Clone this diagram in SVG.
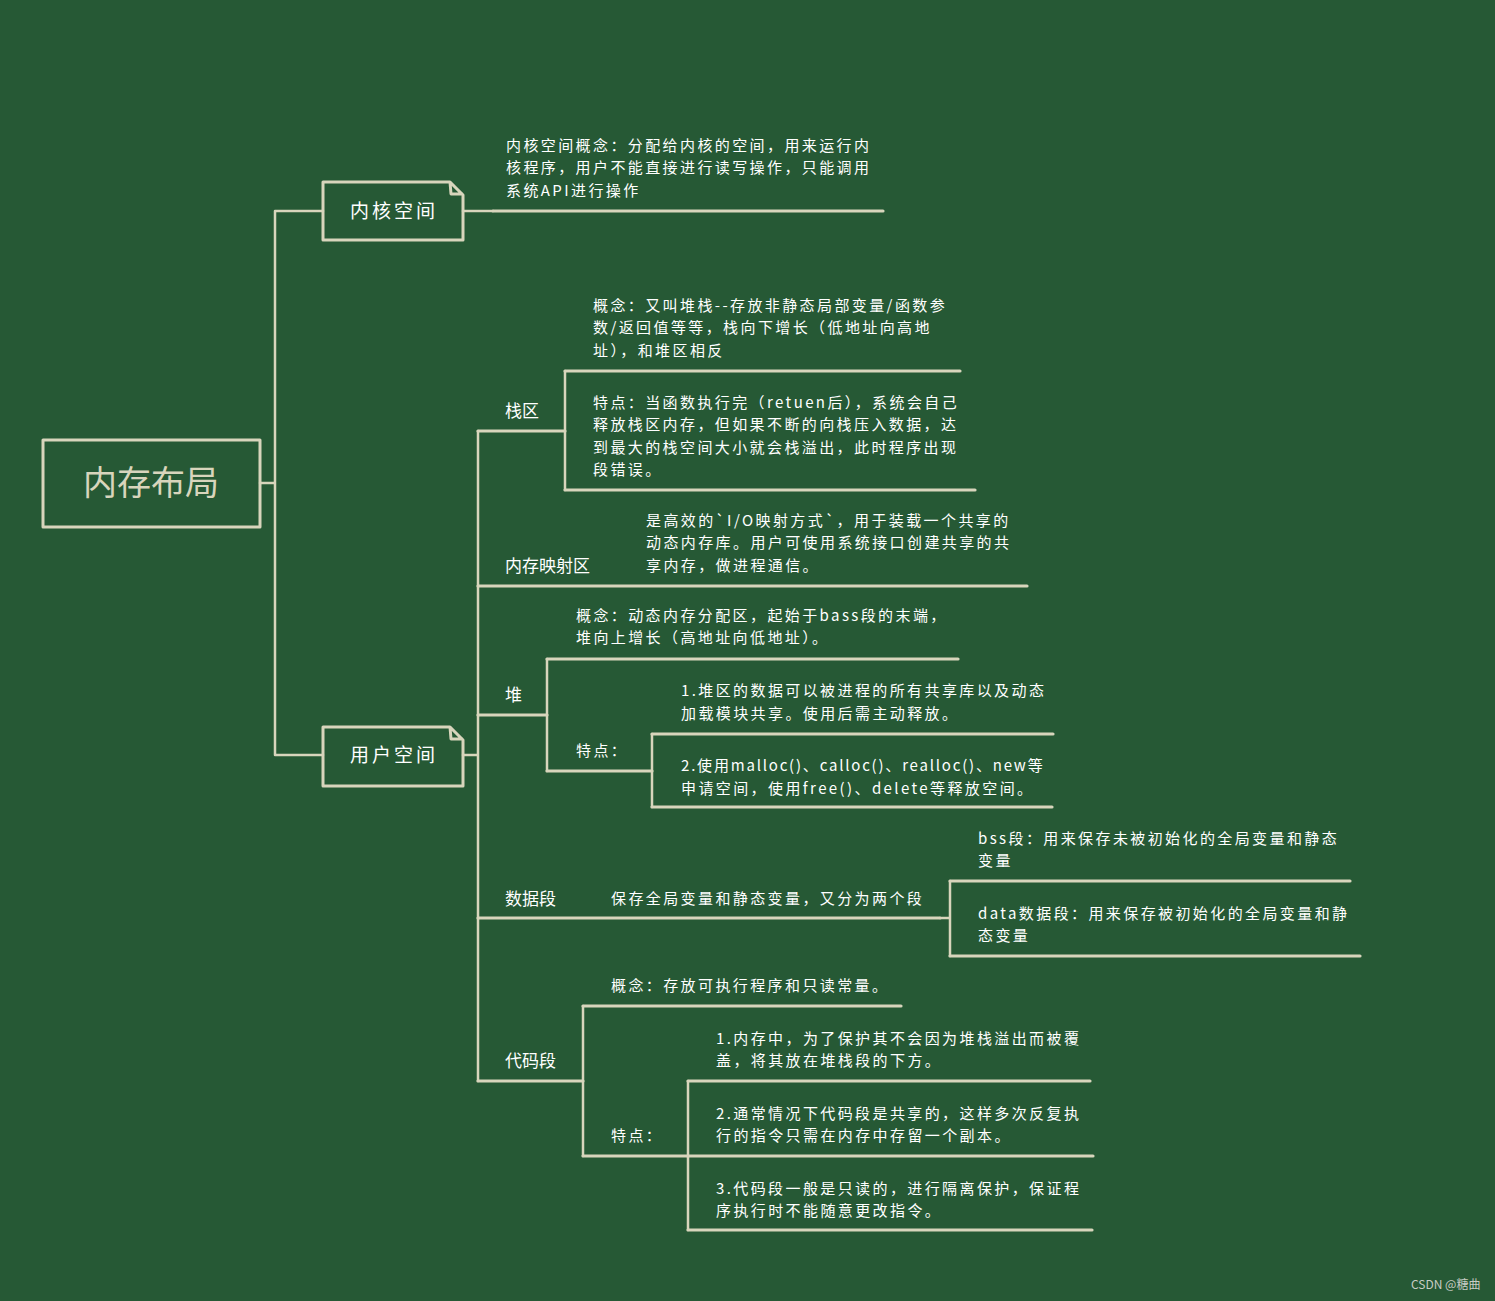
<svg xmlns="http://www.w3.org/2000/svg" width="1495" height="1301" viewBox="0 0 1495 1301">
<style>
.ln{fill:none;stroke:#D8D5BC;stroke-width:2.5;stroke-linecap:round;stroke-linejoin:round}
.ul{fill:none;stroke:#D8D5BC;stroke-width:3.2;stroke-linecap:round}
.box{fill:none;stroke:#D8D5BC;stroke-width:3;stroke-linejoin:round}
.t{font-family:"Noto Sans CJK SC","Noto Sans",sans-serif;font-size:15px;letter-spacing:2.4px;fill:#FFFFFF}
.lb{font-family:"Noto Sans CJK SC","Noto Sans",sans-serif;font-size:17px;fill:#FFFFFF}
.bx{font-family:"Noto Sans CJK SC","Noto Sans",sans-serif;font-size:19px;letter-spacing:3px;fill:#FFFFFF;text-anchor:middle}
.root{font-family:"Noto Sans CJK SC","Noto Sans",sans-serif;font-size:34px;fill:#D8D5BC;text-anchor:middle}
.wm{font-family:"Noto Sans CJK SC","Noto Sans",sans-serif;font-size:12px;fill:#C8CCC4}
</style>
<rect x="0" y="0" width="1495" height="1301" fill="#265935"/>
<g id="connectors">
<path class="ln" d="M260,483 H275 M275,211 V755 M275,211 H323 M275,755 H323"/>
<path class="ln" d="M463,211 H493"/>
<path class="ul" d="M493,211 H883"/>
<path class="ln" d="M463,755 H478 M478,431 V1081"/>
<path class="ul" d="M478,431 H565"/>
<path class="ln" d="M565,371 V490"/>
<path class="ul" d="M565,371 H960 M565,490 H975"/>
<path class="ul" d="M478,586 H1027"/>
<path class="ul" d="M478,715 H547"/>
<path class="ln" d="M547,659 V771"/>
<path class="ul" d="M547,659 H958 M547,771 H652"/>
<path class="ln" d="M652,734 V807"/>
<path class="ul" d="M652,734 H1053 M652,807 H1052"/>
<path class="ul" d="M478,918 H940"/>
<path class="ln" d="M940,918 H950 M950,881 V956"/>
<path class="ul" d="M950,881 H1350 M950,956 H1360"/>
<path class="ul" d="M478,1081 H583"/>
<path class="ln" d="M583,1006 V1156"/>
<path class="ul" d="M583,1006 H901 M583,1156 H688"/>
<path class="ln" d="M688,1081 V1230"/>
<path class="ul" d="M688,1081 H1090 M688,1156 H1093 M688,1230 H1092"/>
</g>
<g id="root">
<rect class="box" x="43" y="440" width="217" height="87"/>
<text class="root" x="151" y="495">内存布局</text>
</g>
<g id="kernel">
<path class="box" d="M323,182 H450 L463,195 V240 H323 Z M450,182 L451,194 H463"/>
<text class="bx" x="394" y="218">内核空间</text>
</g>
<g id="kernel-desc">
<text class="t" x="506" y="151">内核空间概念：分配给内核的空间，用来运行内</text>
<text class="t" x="506" y="173">核程序，用户不能直接进行读写操作，只能调用</text>
<text class="t" x="506" y="196">系统API进行操作</text>
</g>
<g id="user">
<path class="box" d="M323,727 H450 L463,740 V786 H323 Z M450,727 L451,739 H463"/>
<text class="bx" x="394" y="762">用户空间</text>
</g>
<g id="stack">
<text class="lb" x="505" y="417">栈区</text>
</g>
<g id="stack-concept">
<text class="t" x="593" y="311">概念：又叫堆栈--存放非静态局部变量/函数参</text>
<text class="t" x="593" y="333">数/返回值等等，栈向下增长（低地址向高地</text>
<text class="t" x="593" y="356">址），和堆区相反</text>
</g>
<g id="stack-feature">
<text class="t" x="593" y="408">特点：当函数执行完（retuen后），系统会自己</text>
<text class="t" x="593" y="430">释放栈区内存，但如果不断的向栈压入数据，达</text>
<text class="t" x="593" y="453">到最大的栈空间大小就会栈溢出，此时程序出现</text>
<text class="t" x="593" y="475">段错误。</text>
</g>
<g id="mmap">
<text class="lb" x="505" y="572">内存映射区</text>
</g>
<g id="mmap-desc">
<text class="t" x="646" y="526">是高效的`I/O映射方式`，用于装载一个共享的</text>
<text class="t" x="646" y="548">动态内存库。用户可使用系统接口创建共享的共</text>
<text class="t" x="646" y="571">享内存，做进程通信。</text>
</g>
<g id="heap">
<text class="lb" x="505" y="701">堆</text>
</g>
<g id="heap-concept">
<text class="t" x="576" y="621">概念：动态内存分配区，起始于bass段的末端，</text>
<text class="t" x="576" y="643">堆向上增长（高地址向低地址）。</text>
</g>
<g id="heap-feature">
<text class="t" x="576" y="756">特点：</text>
</g>
<g id="heap-f1">
<text class="t" x="681" y="696">1.堆区的数据可以被进程的所有共享库以及动态</text>
<text class="t" x="681" y="719">加载模块共享。使用后需主动释放。</text>
</g>
<g id="heap-f2">
<text class="t" x="681" y="771" style="letter-spacing:1.8px">2.使用malloc()、calloc()、realloc()、new等</text>
<text class="t" x="681" y="794">申请空间，使用free()、delete等释放空间。</text>
</g>
<g id="data">
<text class="lb" x="505" y="905">数据段</text>
</g>
<g id="data-desc">
<text class="t" x="611" y="904">保存全局变量和静态变量，又分为两个段</text>
</g>
<g id="bss">
<text class="t" x="978" y="844">bss段：用来保存未被初始化的全局变量和静态</text>
<text class="t" x="978" y="866">变量</text>
</g>
<g id="data-seg">
<text class="t" x="978" y="919">data数据段：用来保存被初始化的全局变量和静</text>
<text class="t" x="978" y="941">态变量</text>
</g>
<g id="code">
<text class="lb" x="505" y="1067">代码段</text>
</g>
<g id="code-concept">
<text class="t" x="611" y="991">概念：存放可执行程序和只读常量。</text>
</g>
<g id="code-feature">
<text class="t" x="611" y="1141">特点：</text>
</g>
<g id="code-f1">
<text class="t" x="716" y="1044">1.内存中，为了保护其不会因为堆栈溢出而被覆</text>
<text class="t" x="716" y="1066">盖，将其放在堆栈段的下方。</text>
</g>
<g id="code-f2">
<text class="t" x="716" y="1119">2.通常情况下代码段是共享的，这样多次反复执</text>
<text class="t" x="716" y="1141">行的指令只需在内存中存留一个副本。</text>
</g>
<g id="code-f3">
<text class="t" x="716" y="1194">3.代码段一般是只读的，进行隔离保护，保证程</text>
<text class="t" x="716" y="1216">序执行时不能随意更改指令。</text>
</g>
<text class="wm" x="1411" y="1289">CSDN @糖曲</text>
</svg>
